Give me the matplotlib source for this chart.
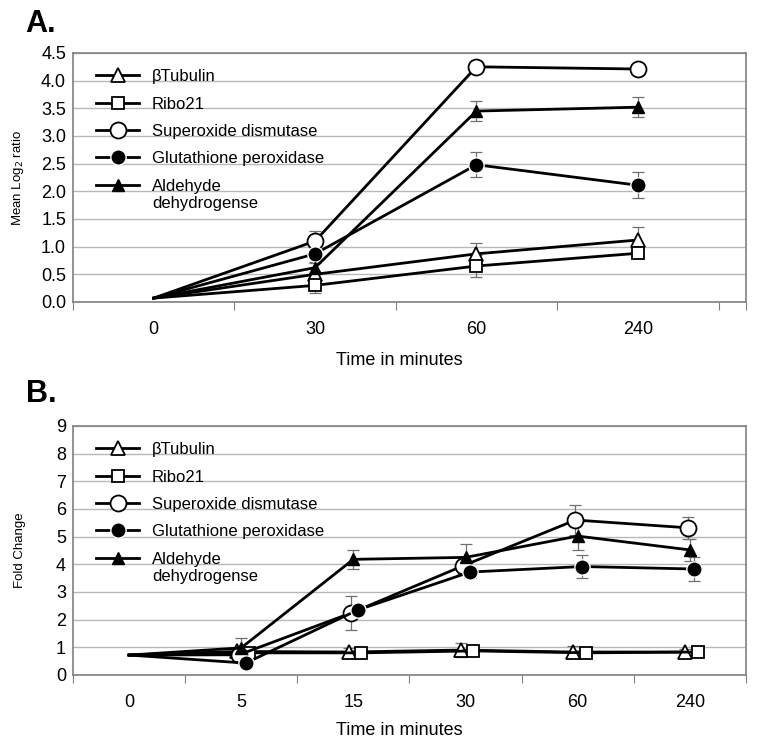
import matplotlib
matplotlib.use("Agg")
import matplotlib.pyplot as plt
from matplotlib.legend_handler import HandlerLine2D
import numpy as np

plt.rcParams['font.family'] = ['Liberation Sans', 'DejaVu Sans']

# Panel A: mean log2 ratio
times_a = ['0', '30', '60', '240']
tub_a = [0.07, 0.50, 0.87, 1.12]
tub_a_err = [0, 0.20, 0.20, 0.24]
ribo_a = [0.07, 0.30, 0.65, 0.88]
ribo_a_err = [0, 0.13, 0.20, 0.08]
sod_a = [0.07, 1.10, 4.25, 4.21]
sod_a_err = [0, 0.18, 0.10, 0.08]
gpx_a = [0.07, 0.87, 2.48, 2.11]
gpx_a_err = [0, 0.08, 0.23, 0.23]
aldh_a = [0.07, 0.62, 3.45, 3.52]
aldh_a_err = [0, 0.10, 0.18, 0.18]

# Panel B: fold change
times_b = ['0', '5', '15', '30', '60', '240']
tub_b = [0.72, 0.85, 0.83, 0.90, 0.83, 0.83]
tub_b_err = [0, 0.10, 0.15, 0.25, 0.20, 0.10]
ribo_b = [0.72, 0.80, 0.80, 0.87, 0.80, 0.83]
ribo_b_err = [0, 0.08, 0.10, 0.20, 0.15, 0.10]
sod_b = [0.72, 0.73, 2.24, 3.95, 5.60, 5.32]
sod_b_err = [0, 0.10, 0.60, 0.30, 0.55, 0.40]
gpx_b = [0.72, 0.43, 2.35, 3.72, 3.92, 3.83]
gpx_b_err = [0, 0.08, 0.10, 0.20, 0.40, 0.45]
aldh_b = [0.72, 0.98, 4.18, 4.25, 5.02, 4.52]
aldh_b_err = [0, 0.35, 0.35, 0.50, 0.50, 0.40]

labels = ['βTubulin', 'Ribo21', 'Superoxide dismutase', 'Glutathione peroxidase',
          'Aldehyde\ndehydrogense']

styles = [
    dict(marker='^', mfc='white', mec='black', ms=9.5, mew=1.3),
    dict(marker='s', mfc='white', mec='black', ms=8.5, mew=1.3),
    dict(marker='o', mfc='white', mec='black', ms=11.5, mew=1.3),
    dict(marker='o', mfc='black', mec='white', ms=11, mew=1.0),
    dict(marker='^', mfc='black', mec='black', ms=9, mew=1.0),
]


class FirstLineHandler(HandlerLine2D):
    # put the legend handle next to the first line of a two-line label
    def create_artists(self, legend, orig_handle, xdescent, ydescent, width, height, fontsize, trans):
        return super().create_artists(legend, orig_handle, xdescent, ydescent - 1.15 * fontsize,
                                      width, height, fontsize, trans)


def draw_panel(ax, cats, series, errs, offsets, ymax, ystep, fmt, xright, ylabel):
    x = np.arange(len(cats))
    lines = []
    for i, (vals, err) in enumerate(zip(series, errs)):
        xs = x + offsets[i]
        xs[0] = 0
        ln, = ax.plot(xs, vals, color='black', lw=2.0, markevery=slice(1, None), zorder=3 + i * 0.1,
                      **styles[i])
        ax.errorbar(xs[1:], vals[1:], yerr=err[1:], fmt='none', ecolor='#707070', elinewidth=0.9,
                    capsize=4, capthick=0.9, zorder=2)
        lines.append(ln)
    ax.set_xlim(-0.5, xright)
    ax.set_ylim(0, ymax)
    yt = np.arange(0, ymax + 1e-9, ystep)
    ax.set_yticks(yt)
    ax.set_yticklabels([fmt.format(v) for v in yt], fontsize=13)
    ax.yaxis.grid(True, color='#b8b8b8', lw=1.0)
    ax.set_axisbelow(True)
    ax.tick_params(axis='y', length=0, pad=5)
    bounds = list(np.arange(-0.5, len(cats), 1.0))
    if xright > bounds[-1] + 0.01:
        bounds.append(xright)
    ax.set_xticks(bounds)
    ax.set_xticklabels([''] * len(bounds))
    ax.set_xticks(x, minor=True)
    ax.set_xticklabels(cats, minor=True, fontsize=13)
    ax.tick_params(axis='x', which='major', length=6, color='#808080', direction='out')
    ax.tick_params(axis='x', which='minor', length=0, pad=14)
    for s in ax.spines.values():
        s.set_color('#808080')
        s.set_linewidth(1.2)
    ax.set_ylabel(ylabel, fontsize=9.5)
    ax.yaxis.set_label_coords(-0.07, 0.5)
    ax.set_xlabel('Time in minutes', fontsize=13)
    leg = ax.legend(lines, labels, loc='upper left', frameon=False, fontsize=12,
                    handlelength=2.6, handletextpad=0.75, labelspacing=0.74,
                    borderaxespad=0.5, bbox_to_anchor=(0.012, 0.995),
                    handler_map={lines[-1]: FirstLineHandler()})
    return leg


fig = plt.figure(figsize=(7.57, 7.46), dpi=100)
ax_a = fig.add_axes([0.0964, 0.5952, 0.889, 0.3338])
ax_b = fig.add_axes([0.0964, 0.0952, 0.889, 0.3338])

draw_panel(ax_a, times_a, [tub_a, ribo_a, sod_a, gpx_a, aldh_a],
           [tub_a_err, ribo_a_err, sod_a_err, gpx_a_err, aldh_a_err],
           [0, 0, 0, 0, 0], 4.5, 0.5, '{:.1f}', 3.67, 'Mean Log$_2$ ratio')
ax_a.xaxis.set_label_coords(0.485, -0.2)

draw_panel(ax_b, times_b, [tub_b, ribo_b, sod_b, gpx_b, aldh_b],
           [tub_b_err, ribo_b_err, sod_b_err, gpx_b_err, aldh_b_err],
           [-0.04, 0.07, -0.02, 0.04, 0.0], 9, 1, '{:.0f}', 5.5, 'Fold Change')
ax_b.xaxis.set_label_coords(0.485, -0.19)

fig.text(0.033, 0.957, 'A.', fontsize=22, fontweight='bold')
fig.text(0.035, 0.461, 'B.', fontsize=22, fontweight='bold')

fig.savefig('out.png', dpi=100)
